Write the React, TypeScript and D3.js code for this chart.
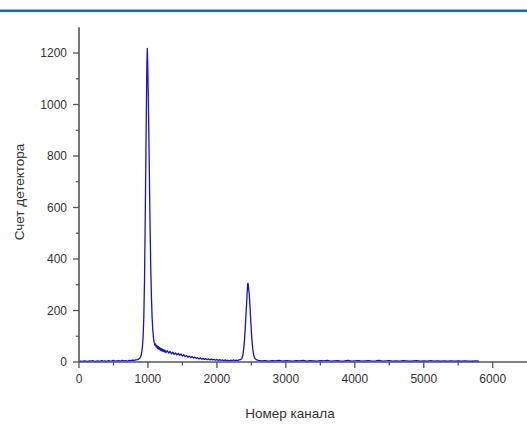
import React from "react";
import * as d3 from "d3";

const W = 527;
const H = 425;

const xTickValues = [0, 1000, 2000, 3000, 4000, 5000, 6000];
const xMinorTicks = [500, 1500, 2500, 3500, 4500, 5500];
const yTickValues = [0, 200, 400, 600, 800, 1000, 1200];
const yMinorTicks = [100, 300, 500, 700, 900, 1100];

const xTitle = "Номер канала";
const yTitle = "Счет детектора";

// channel, count
const baselineLeft: [number, number][] = [
  [0, 1], [25, 3], [50, 2], [75, 4], [100, 3], [125, 2], [150, 4], [175, 3], [200, 5], [225, 2],
  [250, 3], [275, 4], [300, 2], [325, 5], [350, 3], [375, 4], [400, 2], [425, 5], [450, 3], [475, 4],
  [500, 6], [525, 3], [550, 4], [575, 5], [600, 3], [625, 6], [650, 4], [675, 5], [700, 3], [725, 6],
  [750, 5], [775, 7], [800, 6], [825, 8], [850, 9], [870, 12], [890, 18],
];

const peak1: [number, number][] = [
  [900, 26], [910, 38], [920, 60], [930, 100], [940, 175], [950, 315], [960, 540], [970, 810],
  [980, 1050], [985, 1160], [990, 1218], [995, 1180], [1000, 1110], [1010, 945], [1020, 740],
  [1030, 540], [1040, 375], [1050, 255], [1060, 175], [1070, 125], [1080, 94], [1090, 77], [1100, 66],
];

const tail: [number, number][] = [
  [1110, 70], [1120, 58], [1130, 64], [1140, 52], [1150, 60], [1160, 49], [1170, 57], [1180, 45],
  [1190, 53], [1200, 43], [1210, 50], [1220, 41], [1230, 48], [1240, 39], [1250, 45], [1260, 37],
  [1280, 44], [1300, 35], [1320, 41], [1340, 32], [1360, 38], [1380, 30], [1400, 35], [1420, 28],
  [1440, 33], [1460, 26], [1480, 31], [1500, 23], [1520, 28], [1540, 21], [1560, 25], [1580, 19],
  [1600, 23], [1620, 17], [1640, 21], [1660, 15], [1680, 19], [1700, 14], [1720, 17], [1740, 12],
  [1760, 16], [1780, 11], [1800, 14], [1820, 10], [1840, 13], [1860, 9], [1880, 12], [1900, 8],
  [1920, 11], [1940, 8], [1960, 10], [1980, 7], [2000, 10], [2020, 6], [2040, 9], [2060, 6],
  [2080, 8], [2100, 5], [2120, 8], [2140, 5], [2160, 7], [2180, 4], [2200, 7], [2220, 5],
  [2240, 8], [2260, 5], [2280, 7], [2300, 5], [2320, 8], [2340, 9], [2360, 13],
];

const peak2: [number, number][] = [
  [2370, 20], [2380, 32], [2390, 55], [2400, 85], [2410, 125], [2420, 175], [2430, 225],
  [2440, 275], [2445, 300], [2450, 306], [2455, 298], [2460, 288], [2470, 258], [2480, 215],
  [2490, 165], [2500, 118], [2510, 78], [2520, 50], [2530, 32], [2540, 21], [2550, 14],
  [2570, 9], [2590, 7],
];

const baselineRight: [number, number][] = [
  [2600, 6], [2650, 4], [2700, 5], [2750, 3], [2800, 5], [2850, 4], [2900, 6], [2950, 3],
  [3000, 5], [3050, 4], [3100, 3], [3150, 5], [3200, 4], [3250, 6], [3300, 3], [3350, 5],
  [3400, 4], [3450, 3], [3500, 5], [3550, 4], [3600, 6], [3650, 3], [3700, 4], [3750, 5],
  [3800, 3], [3850, 4], [3900, 6], [3950, 3], [4000, 4], [4050, 5], [4100, 3], [4150, 4],
  [4200, 5], [4250, 3], [4300, 4], [4350, 6], [4400, 3], [4450, 4], [4500, 5], [4550, 3],
  [4600, 4], [4650, 3], [4700, 5], [4750, 4], [4800, 3], [4850, 4], [4900, 5], [4950, 3],
  [5000, 4], [5050, 3], [5100, 5], [5150, 3], [5200, 4], [5250, 3], [5300, 4], [5350, 3],
  [5400, 4], [5450, 3], [5500, 4], [5550, 3], [5600, 4], [5650, 3], [5700, 3], [5750, 4], [5800, 3],
];

const spectrum = [...baselineLeft, ...peak1, ...tail, ...peak2, ...baselineRight];

const FONT = "'Liberation Sans', Arial, sans-serif";
const AXIS = "#555";
const TEXT = "#333";

export default function App() {
  const x = d3.scaleLinear().domain([0, 6500]).range([79, 527.2]);
  const y = d3.scaleLinear().domain([0, 1300]).range([362, 27.25]);
  const line = d3
    .line<[number, number]>()
    .x((d) => x(d[0]))
    .y((d) => y(d[1]));

  const x0 = x(0);
  const y0 = y(0);

  return (
    <svg
      width={W}
      height={H}
      style={{ position: "absolute", left: 0, top: 0, background: "#fff" }}
      fontFamily={FONT}
    >
      <rect x={0} y={0} width={W} height={H} fill="#fff" />
      <rect x={0} y={9.5} width={W} height={2.5} fill="#0070c0" />

      <path d={line(spectrum) ?? ""} fill="none" stroke="#1414c8" strokeWidth={1.3} strokeLinejoin="round" />

      {/* y axis */}
      <line x1={x0} x2={x0} y1={y(1300)} y2={y0} stroke={AXIS} strokeWidth={1.6} />
      {yTickValues.map((v) => (
        <g key={"y" + v}>
          <line x1={x0 - 6} x2={x0} y1={y(v)} y2={y(v)} stroke={AXIS} strokeWidth={1.3} />
          <text x={x0 - 12} y={y(v)} dy="0.35em" textAnchor="end" fontSize={12} fill={TEXT}>
            {v}
          </text>
        </g>
      ))}
      {yMinorTicks.map((v) => (
        <line key={"ym" + v} x1={x0 - 3} x2={x0} y1={y(v)} y2={y(v)} stroke={AXIS} strokeWidth={1.3} />
      ))}

      {/* x axis */}
      <line x1={x0} x2={W} y1={y0} y2={y0} stroke={AXIS} strokeWidth={1.6} />
      {xTickValues.map((v) => (
        <g key={"x" + v}>
          <line x1={x(v)} x2={x(v)} y1={y0} y2={y0 + 6} stroke={AXIS} strokeWidth={1.3} />
          <text x={x(v)} y={y0 + 21} textAnchor="middle" fontSize={12} fill={TEXT}>
            {v}
          </text>
        </g>
      ))}
      {xMinorTicks.map((v) => (
        <line key={"xm" + v} x1={x(v)} x2={x(v)} y1={y0} y2={y0 + 3.5} stroke={AXIS} strokeWidth={1.3} />
      ))}

      <text x={290} y={418} textAnchor="middle" fontSize={13.5} fill={TEXT}>
        {xTitle}
      </text>
      <text
        transform={`translate(24,192) rotate(-90)`}
        textAnchor="middle"
        fontSize={13.5}
        fill={TEXT}
      >
        {yTitle}
      </text>
    </svg>
  );
}
